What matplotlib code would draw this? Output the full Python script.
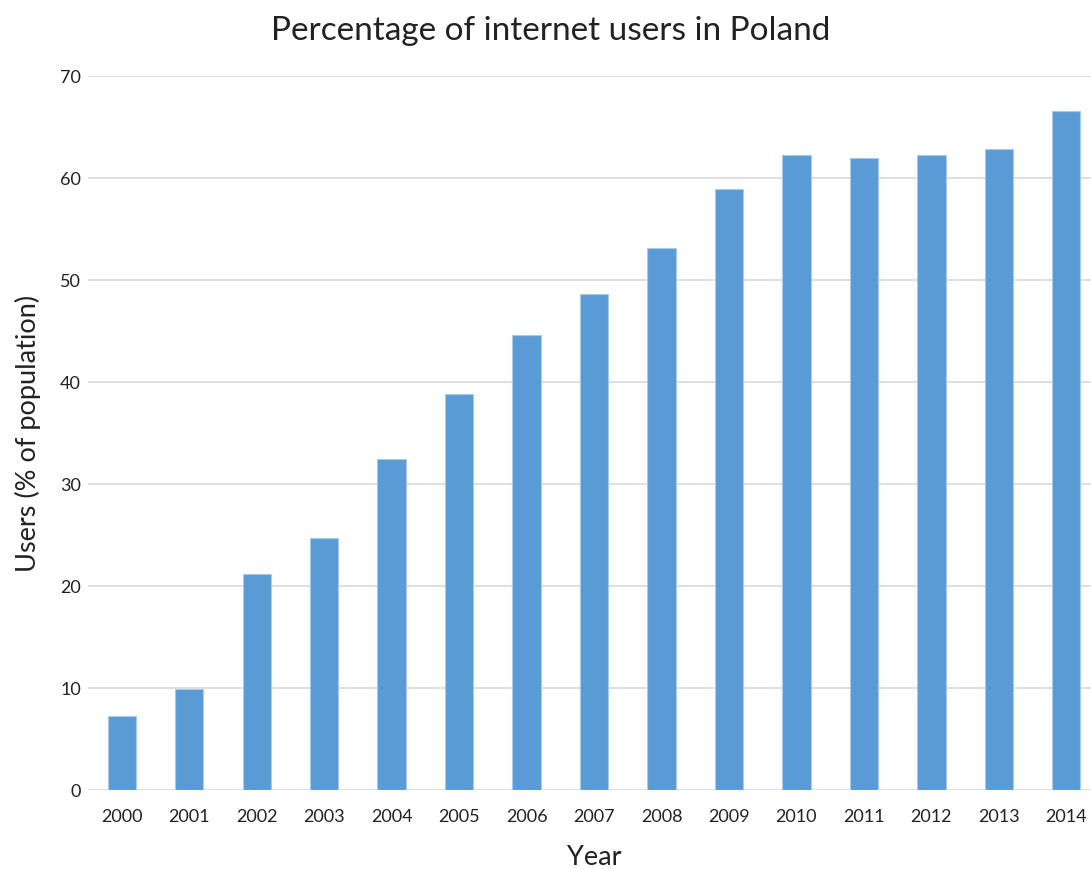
import matplotlib
matplotlib.use("Agg")
import matplotlib.pyplot as plt

years = ["2000", "2001", "2002", "2003", "2004", "2005", "2006", "2007",
         "2008", "2009", "2010", "2011", "2012", "2013", "2014"]
users_pct = [7.3, 9.9, 21.2, 24.7, 32.5, 38.8, 44.6, 48.6,
             53.1, 58.9, 62.3, 62.0, 62.3, 62.8, 66.6]
y_ticks = [0, 10, 20, 30, 40, 50, 60, 70]

plt.rcParams["font.family"] = ["Lato", "DejaVu Sans"]

fig = plt.figure(figsize=(10.91, 8.69), dpi=100)
# plot area runs slightly past the right edge of the figure
ax = fig.add_axes([0.0807, 0.0909, 0.9276, 0.8216])

x = range(len(years))
ax.bar(x, users_pct, width=0.42, color="#5b9bd5", edgecolor="#a9c9ec",
       linewidth=0.8, zorder=3)

ax.set_xlim(-0.5, len(years) - 0.5)
ax.set_ylim(0, 70)
ax.set_yticks(y_ticks)
ax.set_xticks(list(x))
ax.set_xticklabels(years)

ax.grid(axis="y", color="#d9d9d9", linewidth=1.2, zorder=0)
ax.set_axisbelow(True)
for s in ax.spines.values():
    s.set_visible(False)
ax.tick_params(length=0, labelsize=13, colors="#222222")
ax.tick_params(axis="y", pad=5)
ax.tick_params(axis="x", pad=14)

ax.set_title("Percentage of internet users in Poland", fontsize=24,
             color="#222222", pad=26, x=0.457)
ax.set_xlabel("Year", fontsize=19.5, color="#222222", labelpad=14)
ax.set_ylabel("Users (% of population)", fontsize=19.5, color="#222222",
              labelpad=14)

fig.savefig("out.png", dpi=100)
